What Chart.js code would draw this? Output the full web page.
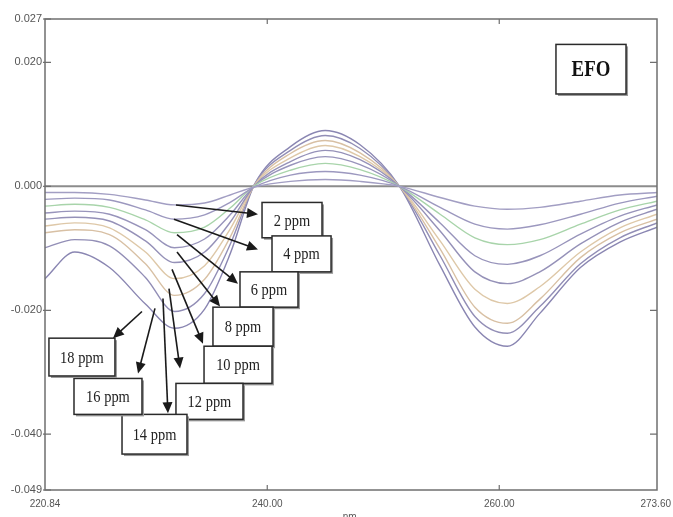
<!DOCTYPE html>
<html>
<head>
<meta charset="utf-8">
<script src="https://cdn.jsdelivr.net/npm/chart.js@4.4.0/dist/chart.umd.min.js"></script>
<style>
  body { margin: 0; background: #fff; }
</style>
</head>
<body>
<canvas id="chart" width="673" height="517"></canvas>
<script>
// wavelength (nm) and derivative absorbance
const wavelengths = [220.84, 223.4, 226.4, 229.5, 232.0, 234.6, 236.8, 238.9, 242.0, 245.0, 248.0, 251.4, 254.9, 257.9, 260.7, 263.5, 267.0, 270.4, 273.6];

const ppm2  = [-0.0010, -0.0010, -0.0013, -0.0022, -0.0030, -0.0027, -0.0014, -0.0001, 0.0008, 0.0011, 0.0008, 0.0000, -0.0018, -0.0032, -0.0037, -0.0034, -0.0024, -0.0014, -0.0010];
const ppm4  = [-0.0021, -0.0019, -0.0022, -0.0038, -0.0053, -0.0046, -0.0026, -0.0001, 0.0018, 0.0024, 0.0018, 0.0000, -0.0034, -0.0061, -0.0069, -0.0062, -0.0045, -0.0027, -0.0016];
const ppm6  = [-0.0032, -0.0029, -0.0034, -0.0054, -0.0075, -0.0066, -0.0035, 0.0001, 0.0026, 0.0037, 0.0027, 0.0000, -0.0045, -0.0083, -0.0094, -0.0086, -0.0061, -0.0038, -0.0024];
const ppm8  = [-0.0043, -0.0040, -0.0045, -0.0070, -0.0099, -0.0085, -0.0046, 0.0001, 0.0034, 0.0048, 0.0035, 0.0000, -0.0059, -0.0112, -0.0126, -0.0112, -0.0077, -0.0048, -0.0030];
const ppm10 = [-0.0053, -0.0050, -0.0056, -0.0088, -0.0123, -0.0106, -0.0058, 0.0001, 0.0040, 0.0058, 0.0043, 0.0000, -0.0072, -0.0138, -0.0157, -0.0138, -0.0093, -0.0058, -0.0037];
const ppm12 = [-0.0064, -0.0059, -0.0067, -0.0106, -0.0149, -0.0128, -0.0069, 0.0002, 0.0046, 0.0066, 0.0048, 0.0000, -0.0088, -0.0166, -0.0189, -0.0162, -0.0106, -0.0067, -0.0045];
const ppm14 = [-0.0075, -0.0070, -0.0078, -0.0125, -0.0176, -0.0150, -0.0082, 0.0002, 0.0053, 0.0074, 0.0054, 0.0000, -0.0101, -0.0195, -0.0221, -0.0182, -0.0115, -0.0075, -0.0053];
const ppm16 = [-0.0099, -0.0086, -0.0096, -0.0147, -0.0202, -0.0173, -0.0094, 0.0003, 0.0058, 0.0082, 0.0061, 0.0000, -0.0112, -0.0210, -0.0237, -0.0194, -0.0125, -0.0083, -0.0059];
const ppm18 = [-0.0149, -0.0106, -0.0131, -0.0190, -0.0229, -0.0198, -0.0109, 0.0003, 0.0064, 0.0090, 0.0067, 0.0000, -0.0128, -0.0227, -0.0258, -0.0205, -0.0131, -0.0090, -0.0066];

const seriesNames = ['2 ppm', '4 ppm', '6 ppm', '8 ppm', '10 ppm', '12 ppm', '14 ppm', '16 ppm', '18 ppm'];
const seriesData = [ppm2, ppm4, ppm6, ppm8, ppm10, ppm12, ppm14, ppm16, ppm18];
const seriesColors = ['#a29ec3', '#9c98bf', '#a8d4aa', '#9894bb', '#9591b8', '#dec8a8', '#d8c0a4', '#928eb6', '#8a86b2'];

const xTicks = [220.84, 240.00, 260.00, 273.60];
const yTicks = [-0.049, -0.040, -0.020, 0.000, 0.020, 0.027];

// label boxes and arrows, in axis units (nm, absorbance)
const boxX1 = [239.55, 240.41, 237.65, 235.32, 234.55, 232.13, 227.48, 223.34, 221.18];
const boxX2 = [244.72, 245.50, 242.65, 240.50, 240.41, 237.91, 233.08, 229.20, 226.87];
const boxTop = [-0.0026, -0.0080, -0.0138, -0.0195, -0.0258, -0.0318, -0.0368, -0.0310, -0.0245];
const boxBottom = [-0.0083, -0.0138, -0.0195, -0.0258, -0.0318, -0.0376, -0.0432, -0.0368, -0.0306];
const arrowFromX = [232.13, 231.96, 232.22, 232.22, 231.79, 231.53, 231.01, 230.32, 229.20];
const arrowFromY = [-0.0030, -0.0053, -0.0078, -0.0106, -0.0134, -0.0165, -0.0181, -0.0197, -0.0202];
const arrowToX = [239.20, 239.20, 237.48, 235.93, 234.46, 232.48, 231.44, 228.86, 226.70];
const arrowToY = [-0.0045, -0.0102, -0.0157, -0.0194, -0.0254, -0.0294, -0.0366, -0.0302, -0.0245];
const titleBox = { text: 'EFO', x1: 264.89, x2: 270.93, top: 0.0229, bottom: 0.0149 };

function drawBox(ctx, l, t, r, b) {
  ctx.fillStyle = '#9a9a9a';
  ctx.fillRect(l + 2, t + 2, r - l, b - t);
  ctx.fillStyle = '#fff';
  ctx.fillRect(l, t, r - l, b - t);
  ctx.strokeStyle = '#2a2a2a';
  ctx.lineWidth = 1.5;
  ctx.strokeRect(l, t, r - l, b - t);
}

// narrow serif text, like the squeezed labels in the original
function squeezedText(ctx, text, cx, cy, font, sx) {
  ctx.save();
  ctx.font = font;
  ctx.translate(cx, cy);
  ctx.scale(sx, 1);
  ctx.fillText(text, 0, 0);
  ctx.restore();
}

function drawArrow(ctx, x1, y1, x2, y2) {
  const ang = Math.atan2(y2 - y1, x2 - x1);
  const L = 11, W = 5;
  const c = Math.cos(ang), s = Math.sin(ang);
  ctx.strokeStyle = '#1a1a1a';
  ctx.fillStyle = '#1a1a1a';
  ctx.lineWidth = 1.6;
  ctx.beginPath();
  ctx.moveTo(x1, y1);
  ctx.lineTo(x2 - L * 0.8 * c, y2 - L * 0.8 * s);
  ctx.stroke();
  ctx.beginPath();
  ctx.moveTo(x2, y2);
  ctx.lineTo(x2 - L * c + W * s, y2 - L * s - W * c);
  ctx.lineTo(x2 - L * c - W * s, y2 - L * s + W * c);
  ctx.closePath();
  ctx.fill();
}

const framePlugin = {
  id: 'frame',
  beforeDatasetsDraw(chart) {
    const { ctx, chartArea: a, scales: { y } } = chart;
    ctx.save();
    const y0 = y.getPixelForValue(0);
    ctx.strokeStyle = '#8c8c8c';
    ctx.lineWidth = 2;
    ctx.beginPath();
    ctx.moveTo(a.left, y0);
    ctx.lineTo(a.right, y0);
    ctx.stroke();
    ctx.restore();
  },
  afterDatasetsDraw(chart) {
    const { ctx, chartArea: a, scales: { x, y } } = chart;
    ctx.save();
    // frame
    ctx.strokeStyle = '#6f6f6f';
    ctx.lineWidth = 1.5;
    ctx.strokeRect(a.left, a.top, a.right - a.left, a.bottom - a.top);
    // ticks
    ctx.lineWidth = 1.2;
    [240, 260].forEach(v => {
      const px = x.getPixelForValue(v);
      ctx.beginPath();
      ctx.moveTo(px, a.top); ctx.lineTo(px, a.top + 5);
      ctx.moveTo(px, a.bottom); ctx.lineTo(px, a.bottom - 5);
      ctx.stroke();
    });
    yTicks.forEach(v => {
      const py = y.getPixelForValue(v);
      ctx.beginPath();
      ctx.moveTo(a.left - 2, py); ctx.lineTo(a.left + 6, py);
      if (v !== yTicks[0] && v !== yTicks[yTicks.length - 1] && v !== 0) {
        ctx.moveTo(a.right, py); ctx.lineTo(a.right - 7, py);
      }
      ctx.stroke();
    });

    // x tick labels, the last one kept inside the canvas
    ctx.fillStyle = '#555';
    ctx.font = '10px "Liberation Sans", sans-serif';
    ctx.textAlign = 'center';
    ctx.textBaseline = 'middle';
    xTicks.forEach(v => {
      const label = v.toFixed(2);
      const w = ctx.measureText(label).width;
      const cx = Math.min(x.getPixelForValue(v), chart.width - 2 - w / 2);
      ctx.fillText(label, cx, a.bottom + 14);
    });

    // label boxes
    for (let i = 0; i < seriesNames.length; i++) {
      const l = x.getPixelForValue(boxX1[i]), r = x.getPixelForValue(boxX2[i]);
      const t = y.getPixelForValue(boxTop[i]), b = y.getPixelForValue(boxBottom[i]);
      drawBox(ctx, l, t, r, b);
      ctx.fillStyle = '#222';
      squeezedText(ctx, seriesNames[i], (l + r) / 2, (t + b) / 2 + 1, '17px "Liberation Serif", serif', 0.85);
    }
    for (let i = 0; i < seriesNames.length; i++) {
      drawArrow(ctx,
        x.getPixelForValue(arrowFromX[i]), y.getPixelForValue(arrowFromY[i]),
        x.getPixelForValue(arrowToX[i]), y.getPixelForValue(arrowToY[i]));
    }

    // EFO box
    const l = x.getPixelForValue(titleBox.x1), r = x.getPixelForValue(titleBox.x2);
    const t = y.getPixelForValue(titleBox.top), b = y.getPixelForValue(titleBox.bottom);
    drawBox(ctx, l, t, r, b);
    ctx.fillStyle = '#111';
    squeezedText(ctx, titleBox.text, (l + r) / 2, (t + b) / 2 + 1, 'bold 23px "Liberation Serif", serif', 0.82);

    // axis unit, cut off at the bottom edge as in the original
    ctx.fillStyle = '#555';
    ctx.font = '10px "Liberation Sans", sans-serif';
    ctx.textBaseline = 'alphabetic';
    ctx.fillText('nm.', 351, 520);
    ctx.restore();
  }
};

const ctx = document.getElementById('chart').getContext('2d');

new Chart(ctx, {
  type: 'line',
  data: {
    datasets: seriesData.map((vals, i) => ({
      label: seriesNames[i],
      data: vals.map((v, j) => ({ x: wavelengths[j], y: v })),
      borderColor: seriesColors[i],
      borderWidth: 1.4,
      pointRadius: 0,
      fill: false,
      cubicInterpolationMode: 'monotone'
    }))
  },
  options: {
    responsive: false,
    animation: false,
    devicePixelRatio: 1,
    layout: { padding: { top: 19, right: 16, left: 0, bottom: 0 } },
    plugins: {
      legend: { display: false },
      tooltip: { enabled: false }
    },
    scales: {
      x: {
        type: 'linear',
        min: 220.84,
        max: 273.6,
        grid: { display: false },
        border: { display: false },
        afterBuildTicks: scale => { scale.ticks = xTicks.map(v => ({ value: v })); },
        afterFit: scale => {
          scale.height = 27;
          scale.paddingLeft = 0;
          scale.paddingRight = 0;
        },
        ticks: { display: false }
      },
      y: {
        min: -0.049,
        max: 0.027,
        grid: { display: false, drawTicks: false },
        border: { display: false },
        afterBuildTicks: scale => { scale.ticks = yTicks.map(v => ({ value: v })); },
        afterFit: scale => { scale.width = 45; },
        ticks: {
          padding: 3,
          autoSkip: false,
          color: '#555',
          font: { family: 'Liberation Sans', size: 11 },
          callback: v => v.toFixed(3)
        }
      }
    }
  },
  plugins: [framePlugin]
});
</script>
</body>
</html>
